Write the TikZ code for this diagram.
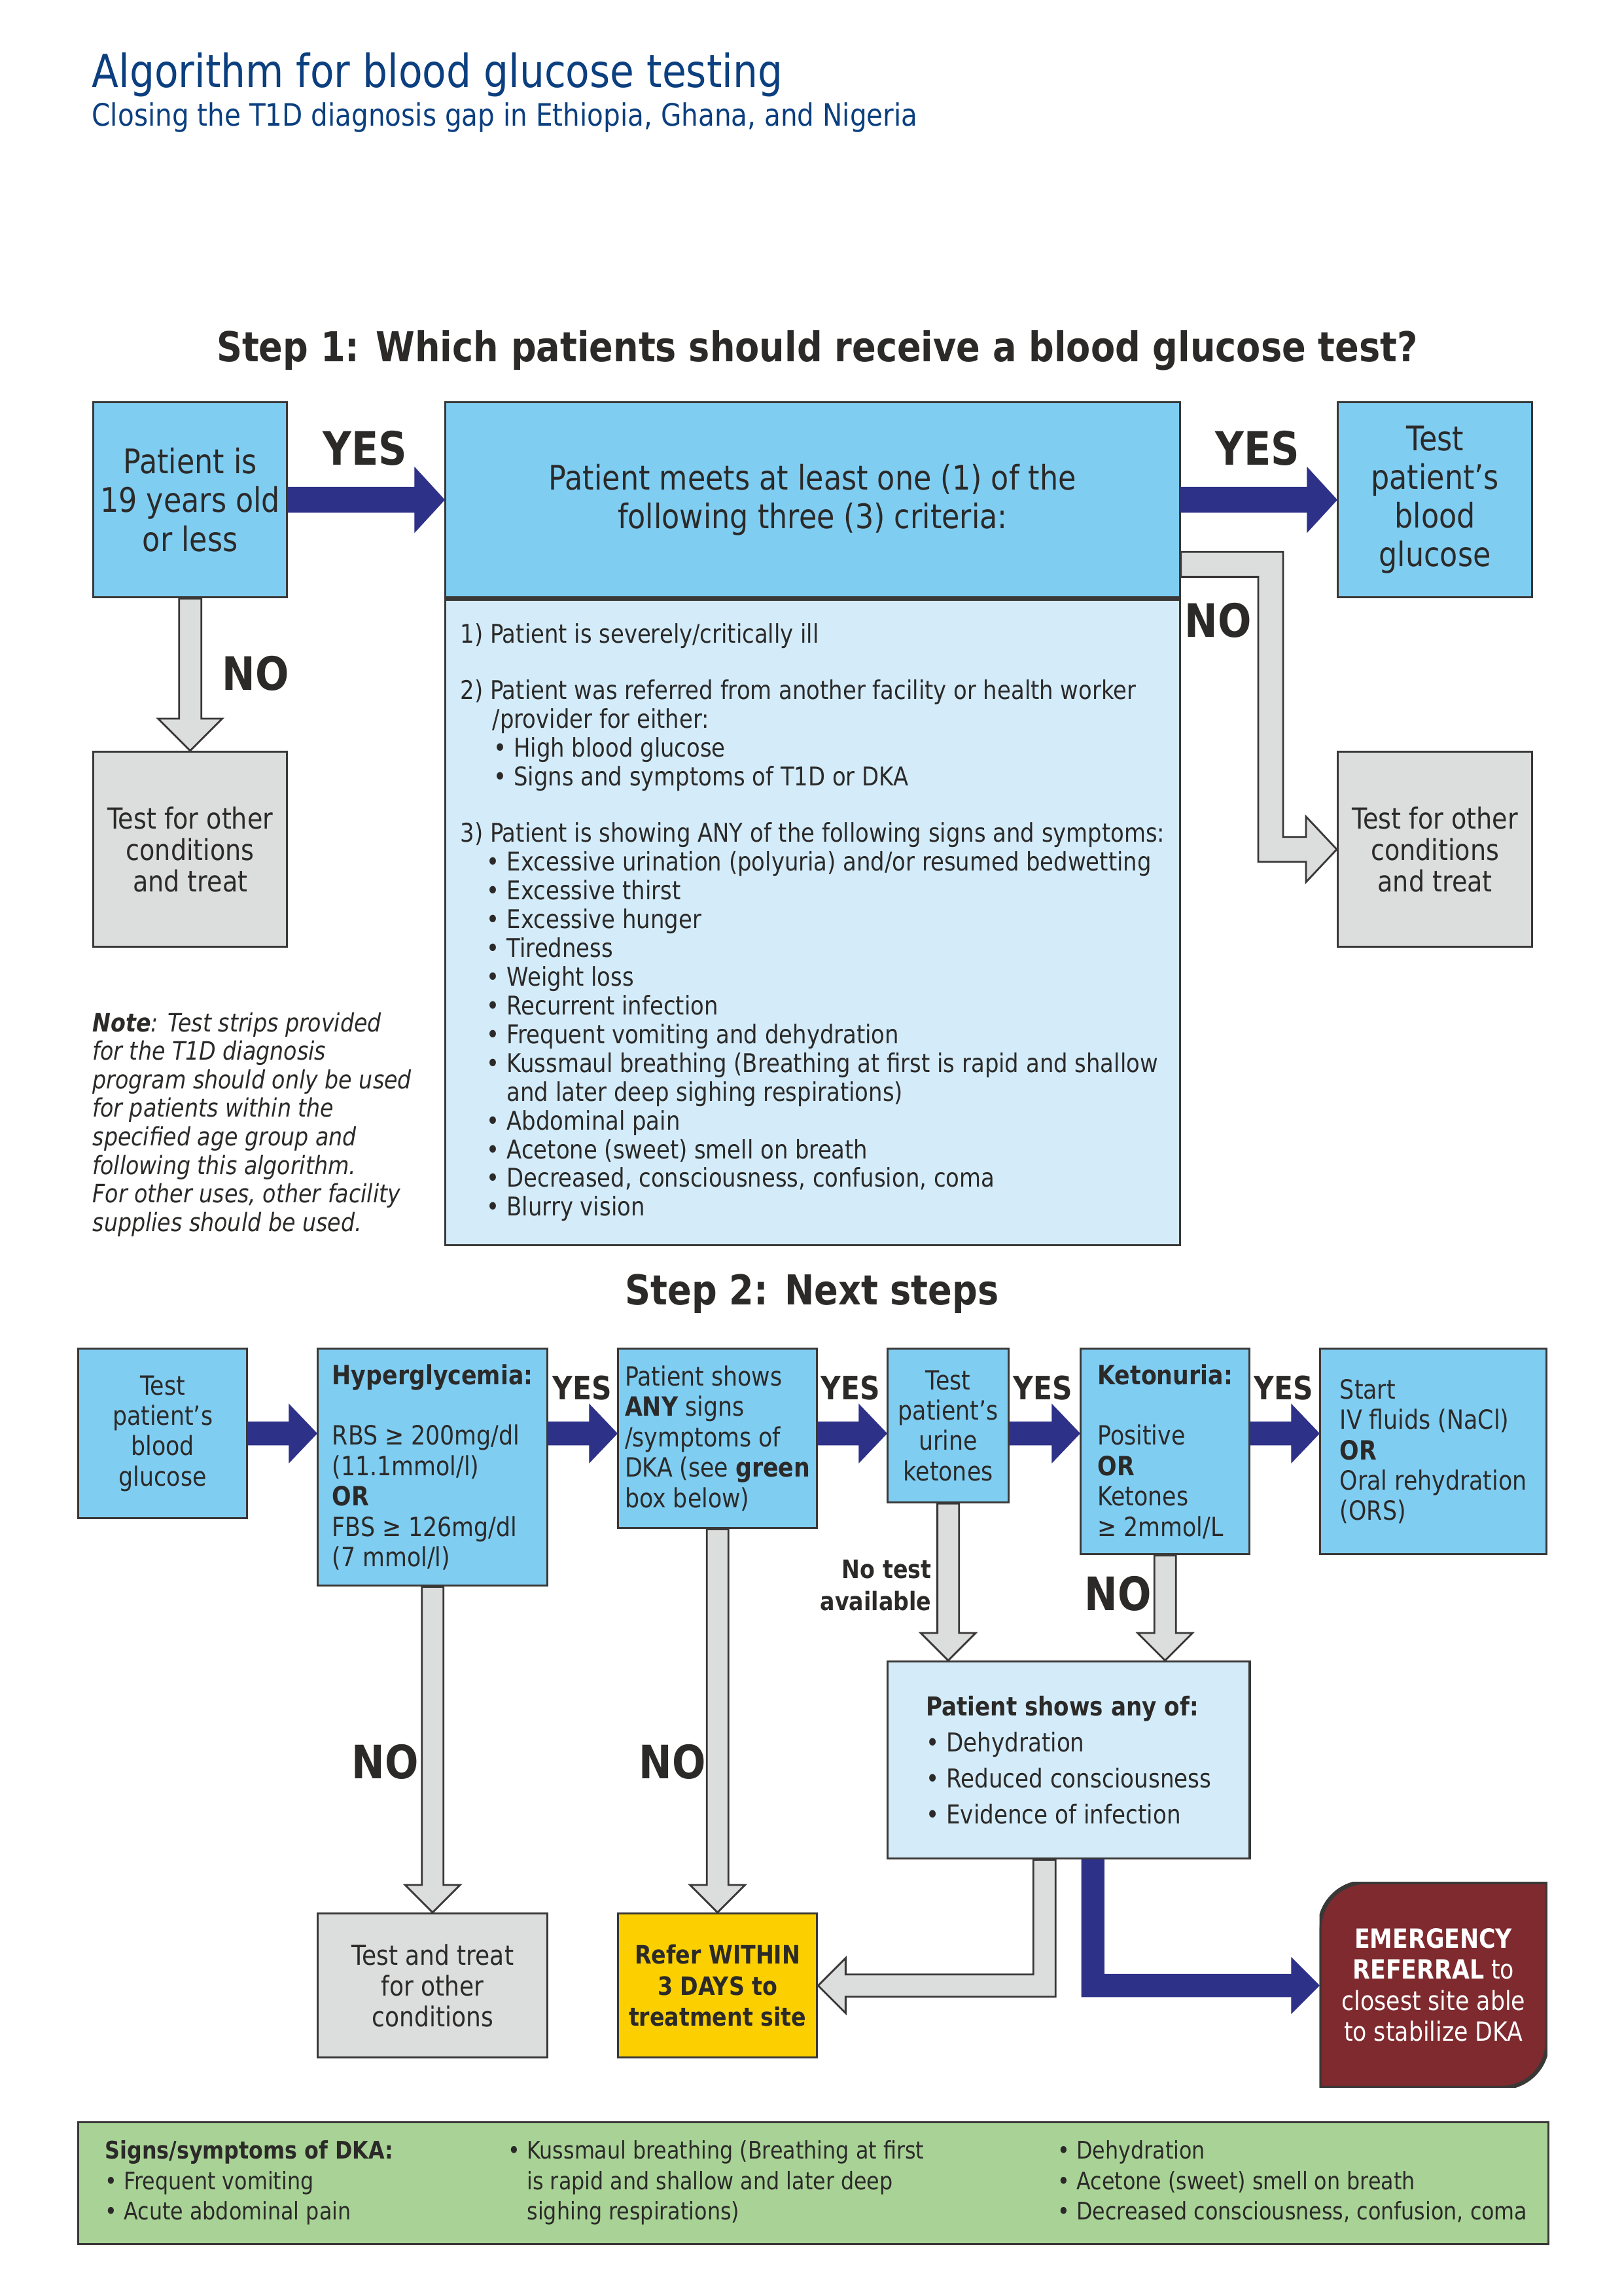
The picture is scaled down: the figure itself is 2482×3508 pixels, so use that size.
\documentclass[tikz,border=0pt]{standalone}
\usepackage{fontspec}
\setmainfont{DejaVu Sans}[FakeStretch=0.86]
\usepackage{xcolor}
\usetikzlibrary{calc,positioning}

\definecolor{titleblue}{HTML}{0B3F7F}
\definecolor{headgray}{HTML}{2B2A29}
\definecolor{edge}{HTML}{3A3837}
\definecolor{skyfill}{HTML}{80CDF2}
\definecolor{palefill}{HTML}{D4ECF9}
\definecolor{grayfill}{HTML}{DCDDDD}
\definecolor{navy}{HTML}{2E3188}
\definecolor{referyellow}{HTML}{FCD000}
\definecolor{emred}{HTML}{7F2A2E}
\definecolor{dkagreen}{HTML}{A9D396}

\newlength{\shaftw}
\newlength{\headw}
\newlength{\headl}
% block arrow to the right: style, from, to (y taken from the start)
\newcommand{\rightblock}[3]{%
  \filldraw[#1] let \p1=(#2), \p2=(#3) in
    (\x1,\y1+\shaftw) -- (\x2-\headl,\y1+\shaftw) -- (\x2-\headl,\y1+\headw) -- (\x2,\y1)
    -- (\x2-\headl,\y1-\headw) -- (\x2-\headl,\y1-\shaftw) -- (\x1,\y1-\shaftw) -- cycle;}
% block arrow downwards: style, from, to (x taken from the start)
\newcommand{\downblock}[3]{%
  \filldraw[#1] let \p1=(#2), \p2=(#3) in
    (\x1-\shaftw,\y1) -- (\x1-\shaftw,\y2+\headl) -- (\x1-\headw,\y2+\headl) -- (\x1,\y2)
    -- (\x1+\headw,\y2+\headl) -- (\x1+\shaftw,\y2+\headl) -- (\x1+\shaftw,\y1) -- cycle;}

\begin{document}
\begin{tikzpicture}[x=0.01cm, y=-0.01cm,
  box/.style={draw=edge, line width=0.9pt, anchor=north west, inner sep=0pt, align=center, text=headgray},
  bluebox/.style={box, fill=skyfill},
  palebox/.style={box, fill=palefill},
  graybox/.style={box, fill=grayfill},
  bigtext/.style={font=\fontsize{14.7}{16.8}\selectfont},
  midtext/.style={font=\fontsize{12.6}{13.7}\selectfont},
  smalltext/.style={font=\fontsize{11.5}{13.2}\selectfont},
  listtext/.style={font=\fontsize{11.2}{12.5}\selectfont},
  heading/.style={anchor=base, text=headgray, font=\bfseries\fontsize{17.9}{20}\selectfont},
  yn/.style={text=headgray, font=\bfseries\fontsize{20}{24}\selectfont},
  ynsmall/.style={text=headgray, font=\bfseries\fontsize{14}{16}\selectfont},
  dkacol/.style={anchor=north west, align=left, inner sep=0pt, text=headgray, font=\fontsize{10.5}{13.2}\selectfont},
  grayarrow/.style={fill=grayfill, draw=edge, line width=0.8pt, line join=miter},
  navyarrow/.style={fill=navy, draw=navy, line width=0.4pt}]

  \fill[white] (0,0) rectangle (2482,3508);
  \useasboundingbox (0,0) rectangle (2482,3508);

  % Title
  \node[anchor=base west, inner sep=0pt, text=titleblue, font=\fontsize{19.8}{22}\selectfont] (title) at (140,133) {Algorithm for blood glucose testing};
  \node[anchor=base west, inner sep=0pt, text=titleblue, font=\fontsize{13.4}{15}\selectfont] (subtitle) at (140,192) {Closing the T1D diagnosis gap in Ethiopia, Ghana, and Nigeria};

  % Step 1 boxes
  \node[heading] (step1) at (1249,552) {Step 1: Which patients should receive a blood glucose test?};
  \node[bluebox, bigtext, minimum width=2.96cm, minimum height=2.98cm] (age) at (141,613) {Patient is\\19 years old\\or less};
  \node[bluebox, bigtext, minimum width=11.22cm, minimum height=2.98cm] (crithead) at (679,613) {Patient meets at least one (1) of the\\following three (3) criteria:};
  \node[palebox, listtext, align=left, minimum width=11.22cm, minimum height=9.86cm] (critlist) at (crithead.south west) {%
    1) Patient is severely/critically ill\\[12pt]
    2) Patient was referred from another facility or health worker\\
    \hspace*{14pt}/provider for either:\\
    \hspace*{14.5pt}• High blood glucose\\
    \hspace*{14.5pt}• Signs and symptoms of T1D or DKA\\[12pt]
    3) Patient is showing ANY of the following signs and symptoms:\\
    \hspace*{11.5pt}• Excessive urination (polyuria) and/or resumed bedwetting\\
    \hspace*{11.5pt}• Excessive thirst\\
    \hspace*{11.5pt}• Excessive hunger\\
    \hspace*{11.5pt}• Tiredness\\
    \hspace*{11.5pt}• Weight loss\\
    \hspace*{11.5pt}• Recurrent infection\\
    \hspace*{11.5pt}• Frequent vomiting and dehydration\\
    \hspace*{11.5pt}• Kussmaul breathing (Breathing at first is rapid and shallow\\
    \hspace*{11.5pt}\phantom{•\ }and later deep sighing respirations)\\
    \hspace*{11.5pt}• Abdominal pain\\
    \hspace*{11.5pt}• Acetone (sweet) smell on breath\\
    \hspace*{11.5pt}• Decreased, consciousness, confusion, coma\\
    \hspace*{11.5pt}• Blurry vision};
  \node[bluebox, bigtext, minimum width=2.97cm, minimum height=2.98cm] (bgtest1) at (2043,613) {Test\\patient’s\\blood\\glucose};
  \node[graybox, midtext, minimum width=2.96cm, minimum height=2.98cm] (otherL) at (141,1147) {Test for other\\conditions\\and treat};
  \node[graybox, midtext, minimum width=2.97cm, minimum height=2.98cm] (otherR) at (2043,1147) {Test for other\\conditions\\and treat};

  % Note
  \node[anchor=north west, align=left, inner sep=0pt, text=headgray, font=\itshape\fontsize{11}{12.4}\selectfont] (note) at (141,1546) {\textbf{Note}: Test strips provided\\for the T1D diagnosis\\program should only be used\\for patients within the\\specified age group and\\following this algorithm.\\For other uses, other facility\\supplies should be used.};

  % Step 1 arrows
  \setlength{\shaftw}{0.19cm}\setlength{\headw}{0.49cm}\setlength{\headl}{0.45cm}
  \rightblock{navyarrow}{age.east}{crithead.west}
  \rightblock{navyarrow}{crithead.east}{bgtest1.west}
  \setlength{\shaftw}{0.17cm}\setlength{\headl}{0.49cm}
  \downblock{grayarrow}{age.south}{otherL.north}
  \coordinate (nostart) at ($(crithead.south east)+(0,-52)$);
  \coordinate (nocorner) at ($(otherR.west)+(-101,0)$);
  \setlength{\shaftw}{0.19cm}\setlength{\headw}{0.50cm}\setlength{\headl}{0.47cm}
  \filldraw[grayarrow] let \p1=(nostart), \p2=(otherR.west), \p3=(nocorner) in
    (\x1,\y1+\shaftw) -- (\x3+\shaftw,\y1+\shaftw) -- (\x3+\shaftw,\y2+\shaftw) -- (\x2-\headl,\y2+\shaftw)
    -- (\x2-\headl,\y2+\headw) -- (\x2,\y2) -- (\x2-\headl,\y2-\headw) -- (\x2-\headl,\y2-\shaftw)
    -- (\x3-\shaftw,\y2-\shaftw) -- (\x3-\shaftw,\y1-\shaftw) -- (\x1,\y1-\shaftw) -- cycle;
  \node[yn] (yes1) at (558,685) {YES};
  \node[yn] (no1) at (391,1029) {NO};
  \node[yn] (yes2) at (1922,685) {YES};
  \node[yn] (no2) at (1862,948) {NO};

  % Step 2 boxes
  \node[heading] (step2) at (1241,1993) {Step 2: Next steps};
  \node[bluebox, smalltext, minimum width=2.58cm, minimum height=2.59cm] (bgtest2) at (118,2059) {Test\\patient’s\\blood\\glucose};
  \node[bluebox, smalltext, align=left, minimum width=3.51cm, minimum height=3.62cm] (hyper) at (484,2059) {\textbf{Hyperglycemia:}\\[13.2pt]RBS ≥ 200mg/dl\\(11.1mmol/l)\\\textbf{OR}\\FBS ≥ 126mg/dl\\(7 mmol/l)};
  \node[bluebox, smalltext, align=left, minimum width=3.04cm, minimum height=2.74cm] (dka) at (943,2059) {Patient shows\\\textbf{ANY} signs\\/symptoms of\\DKA (see \textbf{green}\\box below)};
  \node[bluebox, smalltext, minimum width=1.85cm, minimum height=2.35cm] (urine) at (1355,2059) {Test\\patient’s\\urine\\ketones};
  \node[bluebox, smalltext, align=left, minimum width=2.58cm, minimum height=3.14cm] (keton) at (1650,2059) {\textbf{Ketonuria:}\\[13.2pt]Positive\\\textbf{OR}\\Ketones\\≥ 2mmol/L};
  \node[bluebox, smalltext, align=left, minimum width=3.46cm, minimum height=3.14cm] (fluids) at (2016,2059) {Start\\IV fluids (NaCl)\\\textbf{OR}\\Oral rehydration\\(ORS)};
  \node[palebox, align=left, font=\fontsize{11.3}{15.7}\selectfont, minimum width=5.53cm, minimum height=3.01cm] (anyof) at (1355,2537) {\textbf{Patient shows any of:}\\• Dehydration\\• Reduced consciousness\\• Evidence of infection};
  \node[graybox, font=\fontsize{11.9}{13.4}\selectfont, minimum width=3.51cm, minimum height=2.20cm] (treatoth) at (484,2922) {Test and treat\\for other\\conditions};
  \node[box, fill=referyellow, font=\bfseries\fontsize{11}{13.4}\selectfont, minimum width=3.04cm, minimum height=2.20cm] (refer3) at (943,2922) {Refer WITHIN\\3 DAYS to\\treatment site};
  \node[anchor=north west, align=center, inner sep=0pt, text=white, font=\fontsize{11.5}{13.4}\selectfont, minimum width=3.48cm, minimum height=3.14cm,
    path picture={\filldraw[fill=emred, draw=edge, line width=1.8pt]
      let \p1=(path picture bounding box.north west), \p2=(path picture bounding box.south east) in
      (\x1,\y2) -- (\x1,\y1-0.7cm) arc[start angle=180, end angle=90, radius=0.7cm] -- (\x2,\y1)
      -- (\x2,\y2+0.7cm) arc[start angle=0, end angle=-90, radius=0.7cm] -- cycle;}] (emerg) at (2016,2875) {\textbf{EMERGENCY}\\\textbf{REFERRAL} to\\closest site able\\to stabilize DKA};

  % DKA signs box
  \node[box, fill=dkagreen, minimum width=22.46cm, minimum height=1.86cm] (dkabox) at (118,3241) {};
  \node[dkacol] (dkacol1) at ($(dkabox.north west)+(42,29)$) {\textbf{Signs/symptoms of DKA:}\\• Frequent vomiting\\• Acute abdominal pain};
  \node[dkacol] (dkacol2) at ($(dkabox.north west)+(658,29)$) {• Kussmaul breathing (Breathing at first\\\phantom{•\ }is rapid and shallow and later deep\\\phantom{•\ }sighing respirations)};
  \node[dkacol] (dkacol3) at ($(dkabox.north west)+(1498,29)$) {• Dehydration\\• Acetone (sweet) smell on breath\\• Decreased consciousness, confusion, coma};

  % Step 2 arrows
  \setlength{\shaftw}{0.175cm}\setlength{\headw}{0.44cm}\setlength{\headl}{0.42cm}
  \rightblock{navyarrow}{bgtest2.east}{hyper.west}
  \rightblock{navyarrow}{hyper.east |- bgtest2.east}{dka.west}
  \rightblock{navyarrow}{dka.east |- bgtest2.east}{urine.west}
  \rightblock{navyarrow}{urine.east |- bgtest2.east}{keton.west}
  \rightblock{navyarrow}{keton.east |- bgtest2.east}{fluids.west}
  \setlength{\shaftw}{0.165cm}\setlength{\headw}{0.42cm}\setlength{\headl}{0.42cm}
  \downblock{grayarrow}{hyper.south}{treatoth.north}
  \downblock{grayarrow}{dka.south}{refer3.north}
  \downblock{grayarrow}{urine.south}{anyof.north}
  \downblock{grayarrow}{keton.south}{anyof.north}
  \coordinate (anyL) at ($(anyof.south)+(-37,0)$);
  \coordinate (anyR) at ($(anyof.south)+(37,0)$);
  \setlength{\shaftw}{0.17cm}
  \filldraw[grayarrow] let \p1=(anyL), \p2=(refer3.east) in
    (\x1-\shaftw,\y1) -- (\x1-\shaftw,\y2+\shaftw) -- (\x2+\headl,\y2+\shaftw) -- (\x2+\headl,\y2+\headw)
    -- (\x2,\y2) -- (\x2+\headl,\y2-\headw) -- (\x2+\headl,\y2-\shaftw) -- (\x1+\shaftw,\y2-\shaftw) -- (\x1+\shaftw,\y1) -- cycle;
  \filldraw[navyarrow] let \p1=(anyR), \p2=(emerg.west |- refer3.east) in
    (\x1-\shaftw,\y1) -- (\x1-\shaftw,\y2-\shaftw) -- (\x2-\headl,\y2-\shaftw) -- (\x2-\headl,\y2-\headw)
    -- (\x2,\y2) -- (\x2-\headl,\y2+\headw) -- (\x2-\headl,\y2+\shaftw) -- (\x1+\shaftw,\y2+\shaftw) -- (\x1+\shaftw,\y1) -- cycle;

  % Step 2 labels
  \node[ynsmall] (yesA) at (890,2121) {YES};
  \node[ynsmall] (yesB) at (1300,2121) {YES};
  \node[ynsmall] (yesC) at (1594,2121) {YES};
  \node[ynsmall] (yesD) at (1962,2121) {YES};
  \node[yn] (noA) at (589,2692) {NO};
  \node[yn] (noB) at (1028,2692) {NO};
  \node[yn] (noC) at (1709,2435) {NO};
  \node[anchor=east, align=right, inner sep=0pt, text=headgray, font=\bfseries\fontsize{11}{14}\selectfont] (notest) at (1424,2422) {No test\\available};
\end{tikzpicture}
\end{document}
